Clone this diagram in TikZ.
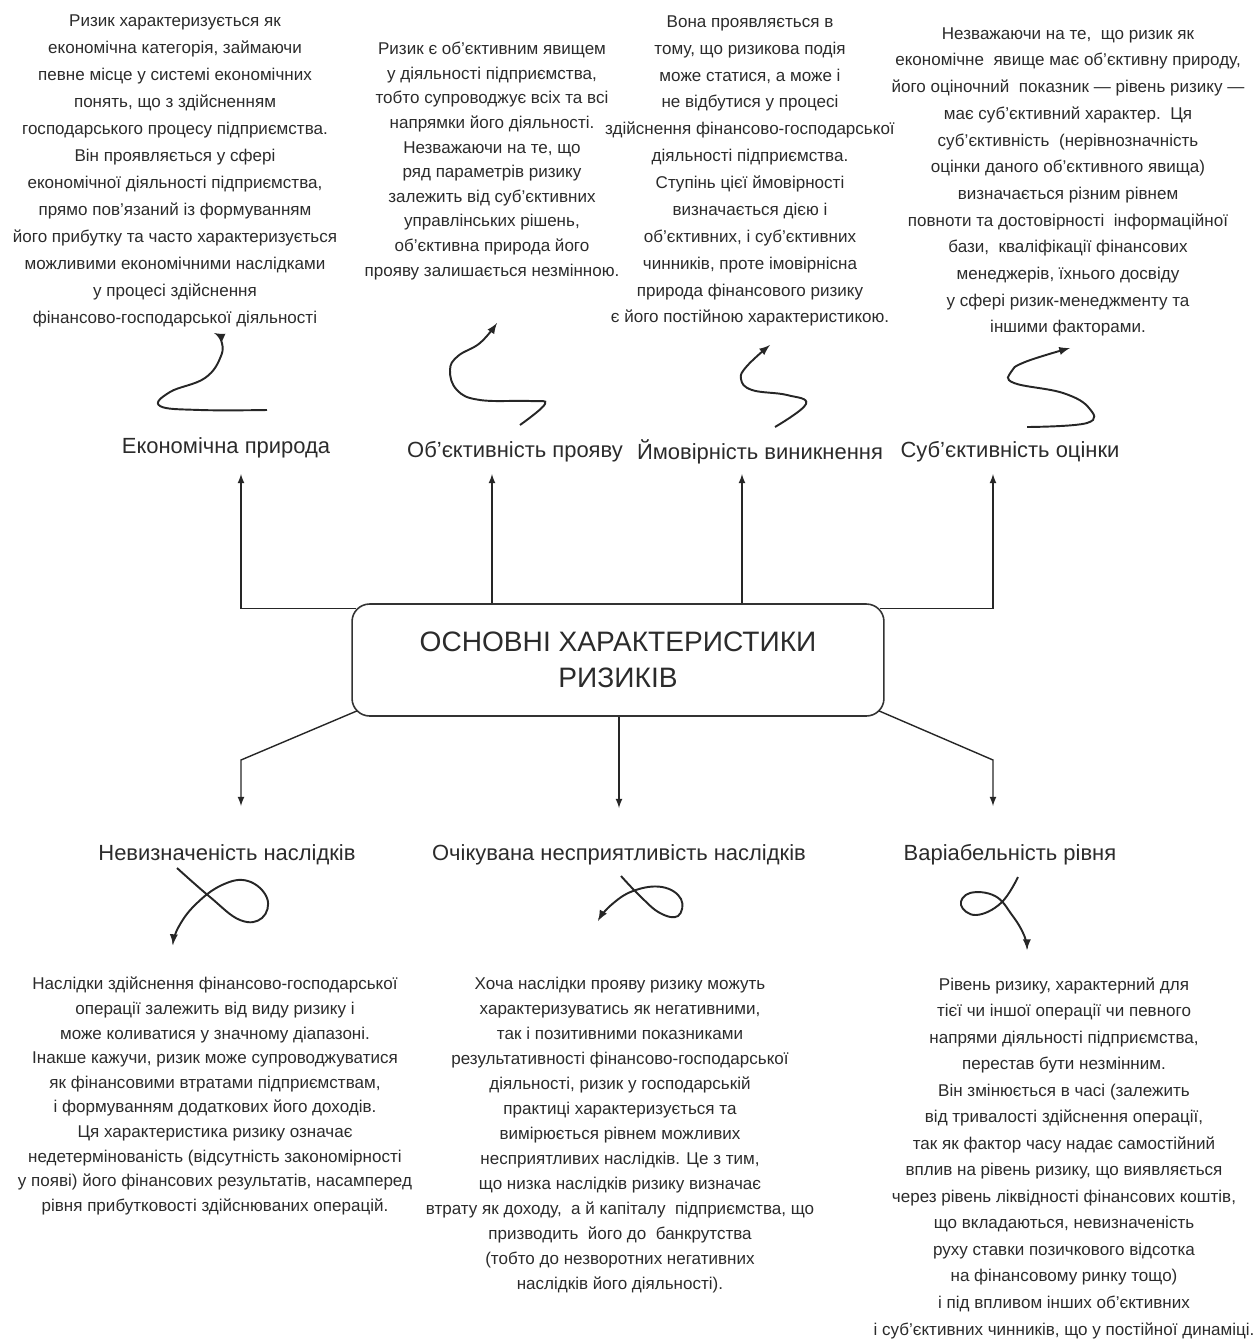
\documentclass[tikz,border=0pt]{standalone}
\usepackage{fontspec}
\setmainfont{Liberation Sans}
\usepackage{tikz}
\usetikzlibrary{calc,arrows}
\definecolor{ink}{HTML}{2B2B2B}

\begin{document}
\begin{tikzpicture}[x=0.02cm,y=-0.02cm,>=latex,
    txt/.style={align=center,inner sep=0pt,text=ink,font=\fontsize{9.7}{#1}\selectfont},
    txt/.default=14,
    lbl/.style={text=ink,font=\fontsize{12.5}{15}\selectfont},
    link/.style={line width=0.8pt,black!85},
    wave/.style={->,line width=1.1pt,black!85}]
    \useasboundingbox (0,0) rectangle (1257,1343);

    \draw node at (618,660)[name=core,draw=black!80,line width=0.9pt,rounded corners=10pt,
        minimum width=10.64cm,minimum height=2.24cm,align=center,text=ink,
        font=\fontsize{16}{20.5}\selectfont]{ОСНОВНІ ХАРАКТЕРИСТИКИ\\РИЗИКІВ};

    \draw node at (226,448)[name=econ,lbl]{Економічна природа};
    \draw node at (515,452)[name=objv,lbl]{Об'єктивність прояву};
    \draw node at (760,452)[name=prob,lbl]{Ймовірність виникнення};
    \draw node at (1010,452)[name=subj,lbl]{Суб'єктивність оцінки};
    \draw node at (227,855)[name=unc,lbl]{Невизначеність наслідків};
    \draw node at (619,855)[name=adv,lbl]{Очікувана несприятливість наслідків};
    \draw node at (1010,855)[name=var,lbl]{Варіабельність рівня};

    \coordinate (t1) at (241,474);
    \coordinate (t2) at (492,474);
    \coordinate (t3) at (742,474);
    \coordinate (t4) at (993,474);
    \draw[->,link] ([shift={(5,5)}]core.north west) -| (t1);
    \draw[->,link] (core.north -| t2) -- (t2);
    \draw[->,link] (core.north -| t3) -- (t3);
    \draw[->,link] ([shift={(-5,5)}]core.north east) -| (t4);

    \coordinate (k1) at (241,760);
    \coordinate (k3) at (993,760);
    \coordinate (b1) at (241,806);
    \coordinate (b2) at (619,808);
    \coordinate (b3) at (993,806);
    \draw[->,link] ([shift={(6,-6)}]core.south west) -- (k1) -- (b1);
    \draw[->,link] (core.south -| b2) -- (b2);
    \draw[->,link] ([shift={(-6,-6)}]core.south east) -- (k3) -- (b3);

    \draw node at (175,171)[name=econT,txt=15.4]{Ризик характеризується як\\
        економічна категорія, займаючи\\
        певне місце у системі економічних\\
        понять, що з здійсненням\\
        господарського процесу підприємства.\\
        Він проявляється у сфері\\
        економічної діяльності підприємства,\\
        прямо пов'язаний із формуванням\\
        його прибутку та часто характеризується\\
        можливими економічними наслідками\\
        у процесі здійснення\\
        фінансово-господарської діяльності};
    \draw node at (492,161)[name=objvT,txt=14]{Ризик є об'єктивним явищем\\
        у діяльності підприємства,\\
        тобто супроводжує всіх та всі\\
        напрямки його діяльності.\\
        Незважаючи на те, що\\
        ряд параметрів ризику\\
        залежить від суб'єктивних\\
        управлінських рішень,\\
        об'єктивна природа його\\
        прояву залишається незмінною.};
    \draw node at (750,171)[name=probT,txt=15.3]{Вона проявляється в\\
        тому, що ризикова подія\\
        може статися, а може і\\
        не відбутися у процесі\\
        здійснення фінансово-господарської\\
        діяльності підприємства.\\
        Ступінь цієї ймовірності\\
        визначається дією і\\
        об'єктивних, і суб'єктивних\\
        чинників, проте імовірнісна\\
        природа фінансового ризику\\
        є його постійною характеристикою.};
    \draw node at (1068,182)[name=subjT,txt=15.2]{Незважаючи на те,\ \ що ризик як\\
        економічне\ \ явище має об'єктивну природу,\\
        його оціночний\ \ показник — рівень ризику —\\
        має суб'єктивний характер.\ \ Ця\\
        суб'єктивність\ \ (нерівнозначність\\
        оцінки даного об'єктивного явища)\\
        визначається різним рівнем\\
        повноти та достовірності\ \ інформаційної\\
        бази,\ \ кваліфікації фінансових\\
        менеджерів, їхнього досвіду\\
        у сфері ризик-менеджменту та\\
        іншими факторами.};

    \draw node at (215,1096)[name=uncT,txt=14]{Наслідки здійснення фінансово-господарської\\
        операції залежить від виду ризику і\\
        може коливатися у значному діапазоні.\\
        Інакше кажучи, ризик може супроводжуватися\\
        як фінансовими втратами підприємствам,\\
        і формуванням додаткових його доходів.\\
        Ця характеристика ризику означає\\
        недетермінованість (відсутність закономірності\\
        у появі) його фінансових результатів, насамперед\\
        рівня прибутковості здійснюваних операцій.};
    \draw node at (620,1135)[name=advT,txt=14.2]{Хоча наслідки прояву ризику можуть\\
        характеризуватись як негативними,\\
        так і позитивними показниками\\
        результативності фінансово-господарської\\
        діяльності, ризик у господарській\\
        практиці характеризується та\\
        вимірюється рівнем можливих\\
        несприятливих наслідків. Це з тим,\\
        що низка наслідків ризику визначає\\
        втрату як доходу,\ \ а й капіталу\ \ підприємства, що\\
        призводить\ \ його до\ \ банкрутства\\
        (тобто до незворотних негативних\\
        наслідків його діяльності).};
    \draw node at (1064,1158)[name=varT,txt=15.1]{Рівень ризику, характерний для\\
        тієї чи іншої операції чи певного\\
        напрями діяльності підприємства,\\
        перестав бути незмінним.\\
        Він змінюється в часі (залежить\\
        від тривалості здійснення операції,\\
        так як фактор часу надає самостійний\\
        вплив на рівень ризику, що виявляється\\
        через рівень ліквідності фінансових коштів,\\
        що вкладаються, невизначеність\\
        руху ставки позичкового відсотка\\
        на фінансовому ринку тощо)\\
        і під впливом інших об'єктивних\\
        і суб'єктивних чинників, що у постійної динаміці.};

    \draw[wave] plot[smooth,tension=0.7] coordinates {(267,410) (200,410) (160,406) (170,392) (205,378) (221,356) (221,340) (214,333)};
    \draw[wave] plot[smooth,tension=0.7] coordinates {(520,425) (545,404) (530,401) (480,400) (457,390) (450,370) (458,356) (480,343) (497,323)};
    \draw[wave] plot[smooth,tension=0.7] coordinates {(775,427) (806,404) (787,395) (752,390) (741,379) (747,366) (770,345)};
    \draw[wave] plot[smooth,tension=0.7] coordinates {(1027,427) (1087,423) (1089,408) (1063,393) (1014,383) (1011,372) (1025,362) (1070,348)};

    \draw[wave] plot[smooth,tension=0.7] coordinates {(177,868) (210,897) (240,920) (262,918) (267,898) (248,881) (222,885) (195,905) (178,928) (173,945)};
    \draw[wave] plot[smooth,tension=0.7] coordinates {(621,876) (640,896) (660,913) (678,916) (681,899) (662,887) (633,891) (610,906) (598,921)};
    \draw[wave] plot[smooth,tension=0.7] coordinates {(1018,877) (1001,903) (976,915) (961,905) (970,893) (995,896) (1012,915) (1024,935) (1027,950)};
\end{tikzpicture}
\end{document}
